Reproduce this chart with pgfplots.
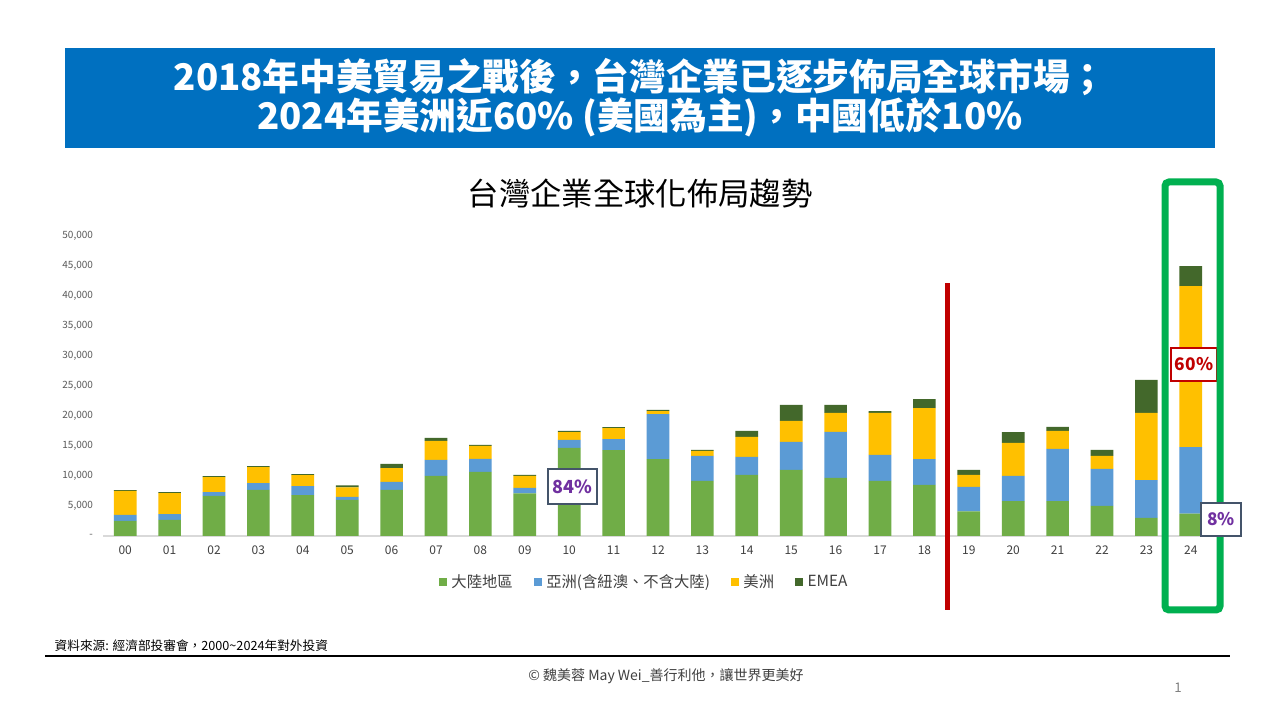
\documentclass[border=0pt]{standalone}
\usepackage{fontspec}
\setmainfont{Noto Sans CJK TC}
\usepackage{pgfplots}
\pgfplotsset{compat=1.18}
\usepackage{pgfplotstable}
\definecolor{cGreen}{HTML}{70AD47}
\definecolor{cBlue}{HTML}{5B9BD5}
\definecolor{cYellow}{HTML}{FFC000}
\definecolor{cDark}{HTML}{43682B}
\definecolor{banner}{HTML}{0070C0}
\definecolor{redline}{HTML}{C00000}
\definecolor{frameg}{HTML}{00B050}
\definecolor{slate}{HTML}{44546A}
\definecolor{purp}{HTML}{7030A0}
\definecolor{tick}{HTML}{595959}
\definecolor{txt}{HTML}{404040}
\pgfplotstableread{
x green blue yellow emea
0 2500 1000 4000 150
1 2700 950 3500 170
2 6700 600 2500 170
3 7700 1100 2670 170
4 6800 1500 1850 160
5 6000 500 1600 330
6 7700 1300 2330 670
7 10000 2670 3170 500
8 10670 2170 2170 170
9 7100 900 2000 170
10 14670 1330 1330 170
11 14330 1830 1830 170
12 12830 7500 500 170
13 9170 4170 830 170
14 10170 3000 3330 1000
15 11000 4670 3500 2670
16 9670 7670 3170 1330
17 9170 4330 7000 330
18 8500 4330 8500 1500
19 4110 4060 2000 830
20 5830 4170 5500 1830
21 5830 8670 3000 670
22 5000 6170 2170 1000
23 3000 6330 11170 5500
24 3720 11110 26830 3330
}\datatable
\begin{document}
\begin{tikzpicture}[x=0.75pt,y=0.75pt]
\useasboundingbox (0,0) rectangle (1280,720);
\fill[white] (0,0) rectangle (1280,720);
% banner
\fill[banner] (65,572) rectangle (1215,672);
\node[white,font=\fontsize{27.5}{30}\selectfont\bfseries] at (640,643) {2018年中美貿易之戰後，台灣企業已逐步佈局全球市場；};
\node[white,font=\fontsize{27.5}{30}\selectfont\bfseries] at (640,603) {2024年美洲近60\% (美國為主)，中國低於10\%};
% chart title
\node[black,font=\fontsize{23.5}{26}\selectfont] at (640,527) {台灣企業全球化佈局趨勢};
\begin{axis}[
  at={(77.25pt,138pt)}, anchor=south west,
  scale only axis, width=832.5pt, height=225pt,
  xmin=-0.5, xmax=24.5, ymin=0, ymax=50000,
  ybar stacked, bar width=17pt,
  separate axis lines,
  axis x line*=bottom, axis y line*=left,
  x axis line style={draw=black!15, line width=0.9pt, -},
  y axis line style={draw=none},
  major tick length=0pt,
  xtick={0,...,24},
  xticklabels={00,01,02,03,04,05,06,07,08,09,10,11,12,13,14,15,16,17,18,19,20,21,22,23,24},
  ytick={0,5000,...,50000},
  scaled y ticks=false,
  yticklabels={{-},{5,000},{10,000},{15,000},{20,000},{25,000},{30,000},{35,000},{40,000},{45,000},{50,000}},
  /pgf/number format/assume math mode=true,
  xticklabel style={font=\fontsize{9}{10}\selectfont, text=txt, yshift=-4pt},
  yticklabel style={font=\fontsize{7.5}{9}\selectfont, text=tick, xshift=-4pt},
  legend columns=4,
  legend style={draw=none, fill=none, at={(0.488,-0.153)}, anchor=center,
    font=\fontsize{11.5}{13}\selectfont, text=txt,
    /tikz/every odd column/.append style={column sep=1.5pt},
    /tikz/every even column/.append style={column sep=14pt}},
  legend image code/.code={\fill[#1] (0pt,-2.8pt) rectangle (5.6pt,2.8pt);},
  clip=false,
]
\addplot[fill=cGreen, draw=none] table[x=x,y=green]{\datatable};
\addplot[fill=cBlue, draw=none] table[x=x,y=blue]{\datatable};
\addplot[fill=cYellow, draw=none] table[x=x,y=yellow]{\datatable};
\addplot[fill=cDark, draw=none] table[x=x,y=emea]{\datatable};
\legend{大陸地區,亞洲(含紐澳、不含大陸),美洲,EMEA}
\end{axis}
% red divider
\draw[redline, line width=3.75pt] (947,110) -- (947,437);
% 60% box
\node[draw=redline, line width=2pt, fill=white, text=redline, font=\fontsize{13}{15}\selectfont\bfseries,
  minimum width=46*0.75pt, minimum height=33*0.75pt, inner sep=0pt] at (1194,355.5) {60\%};
% green frame
\draw[frameg, line width=5.25pt, rounded corners=3pt] (1165,110) rectangle (1220,538);
% 8% box
\node[draw=slate, line width=2pt, fill=white, text=purp, font=\fontsize{13}{15}\selectfont\bfseries,
  minimum width=40*0.75pt, minimum height=33*0.75pt, inner sep=0pt] at (1221,200.5) {8\%};
% 84% box
\node[draw=slate, line width=2pt, fill=white, text=purp, font=\fontsize{13.5}{15}\selectfont\bfseries,
  minimum width=49*0.75pt, minimum height=35*0.75pt, inner sep=0pt] at (572.5,233.5) {84\%};
% footer
\node[anchor=west, black, font=\fontsize{9.5}{11}\selectfont] at (50,74) {資料來源: 經濟部投審會，2000\textasciitilde2024年對外投資};
\draw[black, line width=1.1pt] (45,64) -- (1230,64);
\node[txt, font=\fontsize{10.5}{12}\selectfont] at (666,44) {© 魏美蓉 May Wei\_善行利他，讓世界更美好};
\node[gray, font=\fontsize{10}{12}\selectfont] at (1178,32) {1};
\end{tikzpicture}
\end{document}
